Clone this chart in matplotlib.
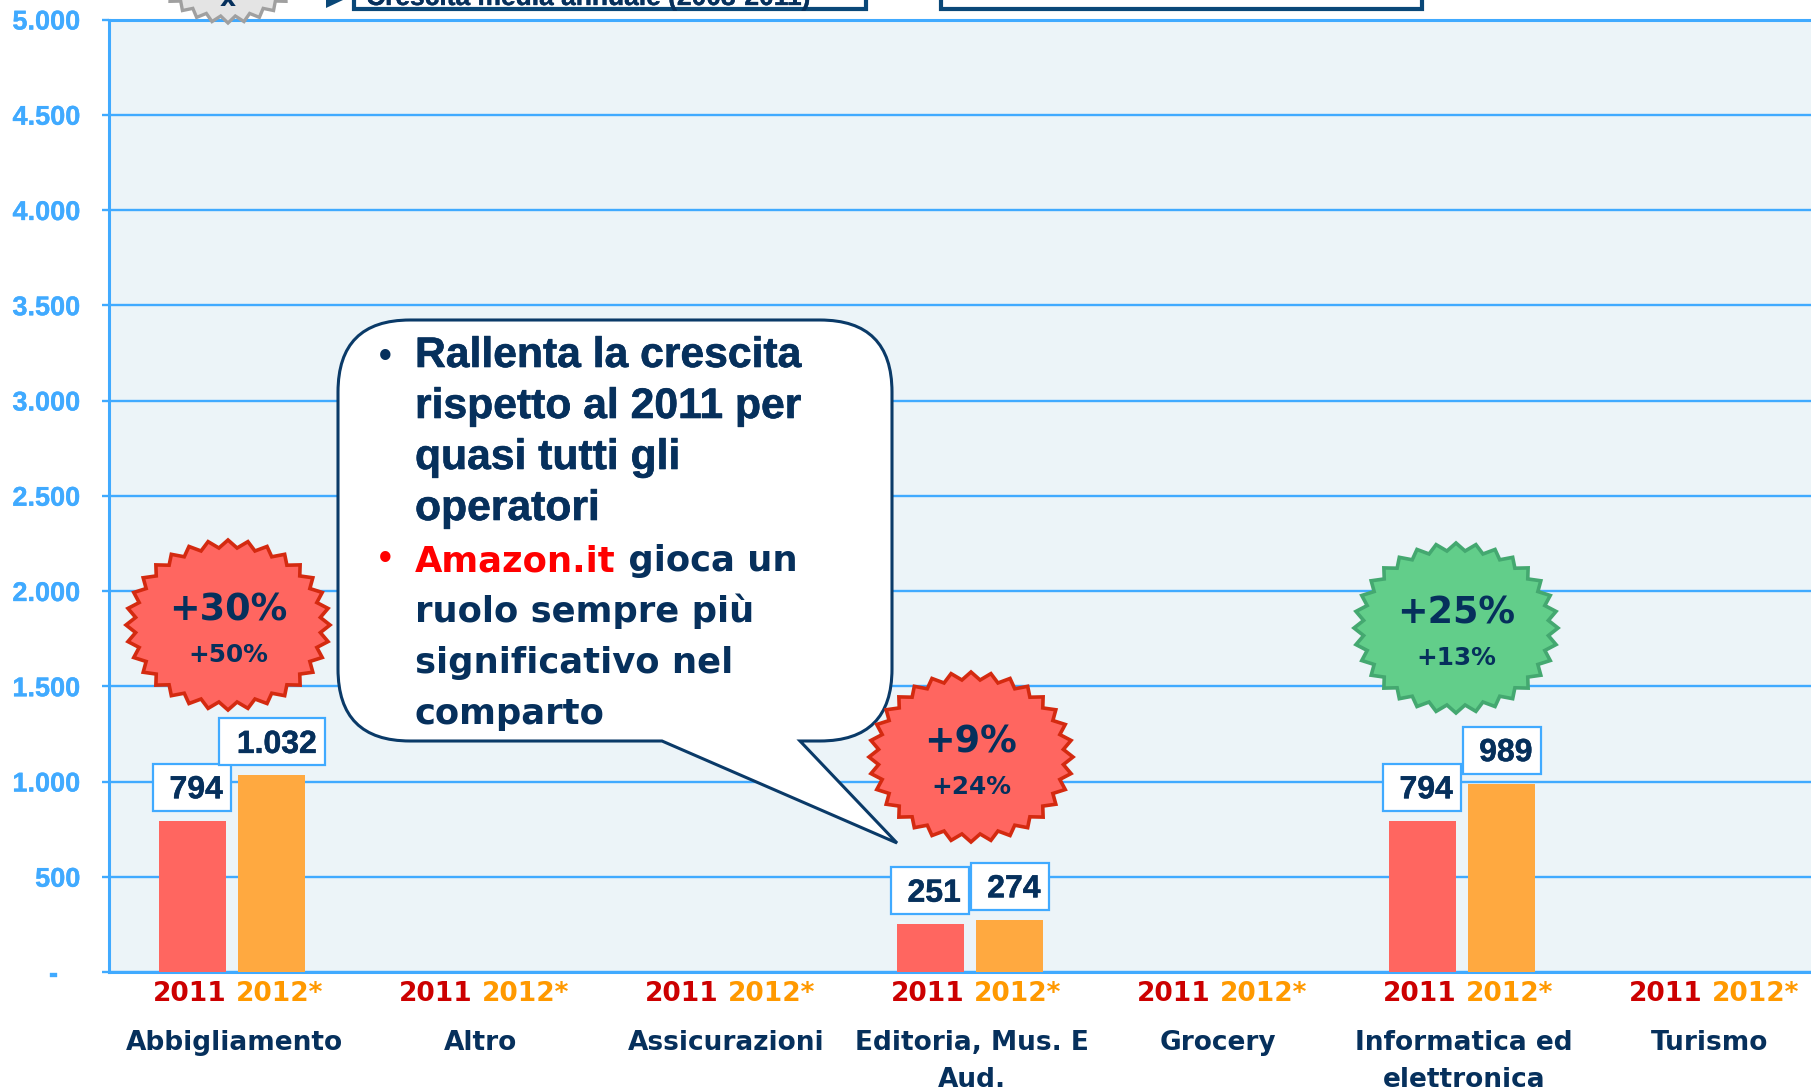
import numpy as np
import matplotlib
matplotlib.use("Agg")
import matplotlib.pyplot as plt
import matplotlib.patheffects as pe
from matplotlib.patches import Polygon, Rectangle, PathPatch
from matplotlib.path import Path

W, H = 1811, 1091
categories = ["Abbigliamento", "Altro", "Assicurazioni", "Editoria, Mus. E\nAud.",
              "Grocery", "Informatica ed\nelettronica", "Turismo"]
values_2011 = [794, 0, 0, 251, 0, 794, 0]
values_2012 = [1032, 0, 0, 274, 0, 989, 0]
labels_2011 = ["794", "", "", "251", "", "794", ""]
labels_2012 = ["1.032", "", "", "274", "", "989", ""]
y_ticks = [0, 500, 1000, 1500, 2000, 2500, 3000, 3500, 4000, 4500, 5000]
y_labels = ["-   ", "500", "1.000", "1.500", "2.000", "2.500", "3.000", "3.500", "4.000", "4.500", "5.000"]
badges = [("+30%", "+50%", 228, 625, "#FF6660", "#D42A10"),
          ("+9%", "+24%", 971, 757, "#FF6660", "#D42A10"),
          ("+25%", "+13%", 1456, 628, "#62CE8A", "#44A870")]

NAVY = "#06305C"
BLUE = "#40AAFF"
TAH = "DejaVu Sans"
ARI = "Liberation Sans"

def heavy(color, w=0.35):
    return [pe.withStroke(linewidth=w, foreground=color)]

fig = plt.figure(figsize=(W/100, H/100), dpi=100, facecolor="white")
L, R, T, B = 109, 1831, 19.5, 972
ax = fig.add_axes([L/W, 1-B/H, (R-L)/W, (B-T)/H])
ax.set_facecolor("#ECF4F8")
ax.set_xlim(0, 7)
ax.set_ylim(0, 5000)
ax.yaxis.grid(True, color=BLUE, lw=1.7)
ax.set_axisbelow(True)
ax.spines["right"].set_visible(False)
for s in ["left", "bottom", "top"]:
    ax.spines[s].set_color(BLUE)
    ax.spines[s].set_linewidth(2.2)
ax.set_yticks(y_ticks)
ax.set_yticklabels(y_labels, fontfamily=ARI, fontweight="bold", fontsize=19.5, color=BLUE,
                   path_effects=heavy(BLUE, 0.25))
ax.tick_params(axis="y", colors=BLUE, length=5, width=1.7, pad=15.5, labelcolor=BLUE)
ax.set_xticks([])

x = np.arange(7) + 0.5
off = 0.162
bw = 0.272
ax.bar(x-off, values_2011, bw, color="#FF6660", zorder=3)
ax.bar(x+off, values_2012, bw, color="#FFA940", zorder=3)

def to_fig(Xp, Yp):
    return Xp/W, 1-Yp/H

# category texts under the axis
for i, c in enumerate(categories):
    cx = L + (R-L)/7*(i+0.5)
    fig.text(*to_fig(cx-42, 994), "2011", color="#CC0000", fontfamily=TAH, fontweight="bold",
             fontsize=19, ha="center", va="center")
    fig.text(*to_fig(cx+47.5, 994), "2012*", color="#FF9900", fontfamily=TAH, fontweight="bold",
             fontsize=19, ha="center", va="center")
    for j, ln in enumerate(c.split("\n")):
        fig.text(*to_fig(cx+2, 1050+j*37), ln, color=NAVY, fontfamily=TAH, fontweight="bold",
                 fontsize=19, ha="center", va="baseline")

overlay = fig.add_axes([0, 0, 1, 1], facecolor="none")
overlay.set_xlim(0, W); overlay.set_ylim(H, 0); overlay.axis("off")

def vbox(x0, x1, y0, y1, txt, tx):
    overlay.add_patch(Rectangle((x0, y0), x1-x0, y1-y0, fc="white", ec=BLUE, lw=1.6, zorder=5))
    overlay.text(tx, (y0+y1)/2+3, txt, color=NAVY, fontfamily=ARI, fontweight="bold",
                 fontsize=23, ha="center", va="center", zorder=6, path_effects=heavy(NAVY))

for i in range(7):
    if not labels_2011[i]:
        continue
    cx = L + (R-L)/7*(i+0.5)
    top1 = B-(B-T)*values_2011[i]/5000
    top2 = B-(B-T)*values_2012[i]/5000
    x1 = cx-off*(R-L)/7; x2 = cx+off*(R-L)/7
    vbox(x1-39, x1+39, top1-57, top1-10, labels_2011[i], x1+4)
    w2 = 53 if len(labels_2012[i]) > 3 else 39
    vbox(x2-w2, x2+w2, top2-57, top2-10, labels_2012[i], x2+(5 if w2 > 40 else 4))

def star(cx, cy, rx, ry, n=32, inner=0.91):
    pts = []
    for k in range(2*n):
        a = np.pi*k/n
        r = 1 if k % 2 == 0 else inner
        pts.append((cx+rx*r*np.cos(a), cy+ry*r*np.sin(a)))
    return pts

for big, small, cx, cy, fc, ec in badges:
    overlay.add_patch(Polygon(star(cx, cy, 102, 85), closed=True, fc=fc, ec=ec, lw=2.6, zorder=7))
    overlay.text(cx, cy-15, big, color=NAVY, fontfamily=TAH, fontweight="bold", fontsize=26.4,
                 ha="center", va="center", zorder=8)
    overlay.text(cx, cy+30, small, color=NAVY, fontfamily=TAH, fontweight="bold", fontsize=17.8,
                 ha="center", va="center", zorder=8)

# clipped grey badge at the top
overlay.add_patch(Polygon(star(228, -51, 82, 74), closed=True, fc="#E4E4E4", ec="#A0A0A0", lw=2.4, zorder=2))
overlay.text(228, -1, "x", color=NAVY, fontfamily=TAH, fontweight="bold", fontsize=18,
             ha="center", va="center", zorder=3)

# clipped legend boxes at the top
overlay.add_patch(Polygon([(326, -8), (326, 8), (343, 0)], closed=True, fc="#0A4878", ec="none", zorder=2))
overlay.add_patch(Rectangle((354, -30), 512, 38.5, fc="white", ec="#0A4878", lw=3, zorder=2))
overlay.add_patch(Rectangle((941, -30), 481, 38.5, fc="white", ec="#0A4878", lw=3, zorder=2))
overlay.text(366, -2, "Crescita media annuale (2008-2011)", color=NAVY, fontfamily=ARI, fontweight="bold",
             fontsize=19, ha="left", va="center", zorder=3, path_effects=heavy(NAVY, 0.25))

# speech bubble
x0, x1, y0, y1, r = 338, 892, 320, 741, 72
tipx, tipy = 897, 843
verts = [(x0+r, y0), (x1-r, y0), (x1, y0), (x1, y0+r), (x1, y1-r), (x1, y1), (x1-r, y1),
         (800, y1), (tipx, tipy), (662, y1), (x0+r, y1), (x0, y1), (x0, y1-r),
         (x0, y0+r), (x0, y0), (x0+r, y0), (x0+r, y0)]
codes = [Path.MOVETO, Path.LINETO, Path.CURVE3, Path.CURVE3, Path.LINETO, Path.CURVE3, Path.CURVE3,
         Path.LINETO, Path.LINETO, Path.LINETO, Path.LINETO, Path.CURVE3, Path.CURVE3,
         Path.LINETO, Path.CURVE3, Path.CURVE3, Path.CLOSEPOLY]
overlay.add_patch(PathPatch(Path(verts, codes), fc="white", ec="#0A3A68", lw=2.2, zorder=6))

arial_lines = ["Rallenta la crescita", "rispetto al 2011 per", "quasi tutti gli", "operatori"]
tah_lines = [" gioca un", "ruolo sempre più", "significativo nel", "comparto"]
tx = 415
for i, t in enumerate(arial_lines):
    overlay.text(tx, 367+i*51, t, color=NAVY, fontfamily=ARI, fontweight="bold", fontsize=30.7,
                 ha="left", va="baseline", zorder=7, path_effects=heavy(NAVY, 0.45))
overlay.text(385, 357, "•", color=NAVY, fontfamily=ARI, fontweight="bold", fontsize=26,
             ha="center", va="center", zorder=7)
overlay.text(385, 560, "•", color="#FF0000", fontfamily=ARI, fontweight="bold", fontsize=26,
             ha="center", va="center", zorder=7)
FS = 25.5
amz = overlay.text(tx, 571, "Amazon.it", color="#FF0000", fontfamily=TAH, fontweight="bold", fontsize=FS,
                   ha="left", va="baseline", zorder=7)
fig.canvas.draw()
bb = amz.get_window_extent()
overlay.text(bb.x1, 571, tah_lines[0], color=NAVY, fontfamily=TAH, fontweight="bold", fontsize=FS,
             ha="left", va="baseline", zorder=7)
for i, t in enumerate(tah_lines[1:]):
    overlay.text(tx, 571+(i+1)*51, t, color=NAVY, fontfamily=TAH, fontweight="bold", fontsize=FS,
                 ha="left", va="baseline", zorder=7)

fig.savefig("out.png", dpi=100)
